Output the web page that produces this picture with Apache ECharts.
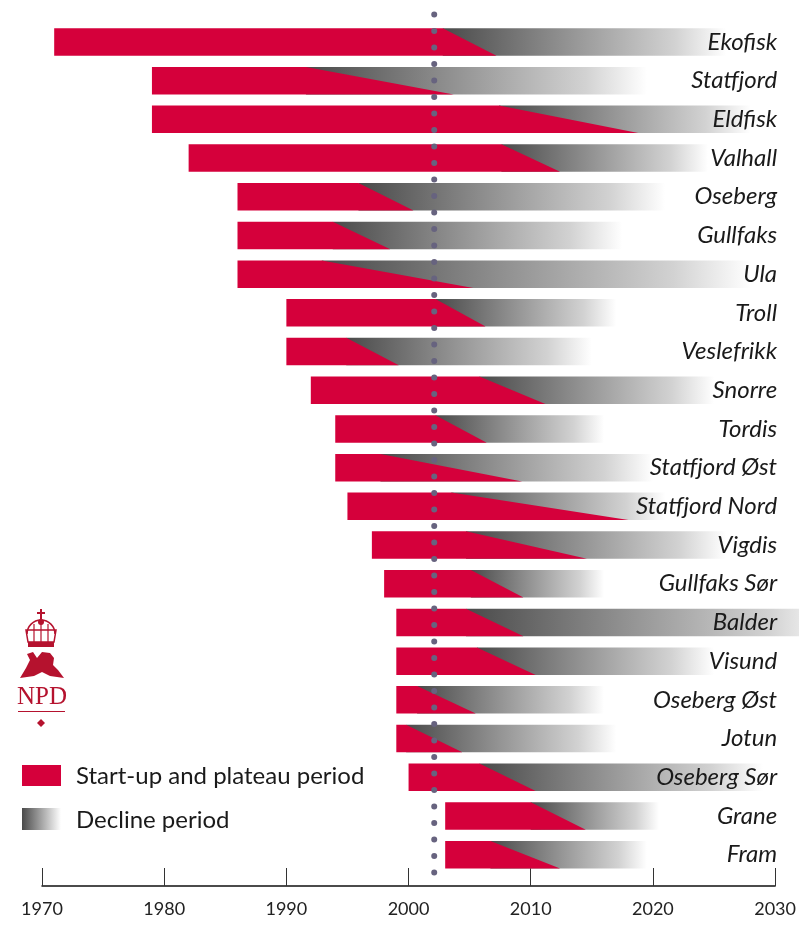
<!DOCTYPE html>
<html>
<head>
<meta charset="utf-8">
<script src="https://cdn.jsdelivr.net/npm/echarts@6/dist/echarts.min.js"></script>
<style>html,body{margin:0;padding:0;background:#fff}#c{width:799px;height:925px}</style>
</head>
<body>
<div id="c"></div>
<script>
// ---- data ----
var fields = ['Ekofisk','Statfjord','Eldfisk','Valhall','Oseberg','Gullfaks','Ula','Troll','Veslefrikk','Snorre','Tordis','Statfjord Øst','Statfjord Nord','Vigdis','Gullfaks Sør','Balder','Visund','Oseberg Øst','Jotun','Oseberg Sør','Grane','Fram'];
var startYear   = [1971,1979,1979,1982,1986,1986,1986,1990,1990,1992,1994,1994,1995,1997,1998,1999,1999,1999,1999,2000,2003,2003];
var plateauTop  = [2002.8,1991.6,2007.4,2007.6,1995.9,1993.8,1992.9,2002.2,1994.9,2005.8,2002.2,1997.7,2003.5,2004.7,2005.1,2004.7,2005.6,2000.7,1999.8,2005.8,2010.0,2006.7];
var plateauBase = [2007.2,2003.7,2018.8,2012.4,2000.4,1998.5,2005.3,2006.3,1999.2,2011.2,2006.4,2009.3,2018.0,2014.6,2009.4,2009.4,2010.4,2005.5,2004.4,2010.4,2014.5,2012.4];
var endYear     = [2026,2019.5,2028,2024.5,2021,2017.5,2028,2017,2015,2025,2016,2020,2021,2026,2016,2035,2025,2016,2017,2029,2020.5,2019.5];
var todayYear = 2002.1;
var xTicks = [1970,1980,1990,2000,2010,2020,2030];
var legendNames = ['Start-up and plateau period','Decline period'];

var RED = '#d5003b';
var rows = fields.map(function(f,i){return [i,startYear[i],plateauTop[i],plateauBase[i],endYear[i]];});

var chart = echarts.init(document.getElementById('c'));
var LOGO = '#b5122e';
var option = {
  animation:false,
  backgroundColor:'#fff',
  grid:{left:42,right:22,top:22.6,bottom:51},
  xAxis:{type:'value',min:xTicks[0],max:xTicks[xTicks.length-1],interval:10,offset:12,
    axisLine:{show:true,lineStyle:{color:'#111',width:1.5}},
    axisTick:{show:true,inside:true,length:18,lineStyle:{color:'#333',width:1}},
    axisLabel:{fontFamily:'Lato',fontSize:18,color:'#222',margin:14,formatter:function(v){return String(v);}},
    splitLine:{show:false}},
  yAxis:{type:'category',data:fields,inverse:true,position:'right',z:10,
    axisLine:{show:false},axisTick:{show:false},splitLine:{show:false},
    axisLabel:{inside:true,margin:-2,fontFamily:'Lato',fontStyle:'italic',fontSize:24,color:'#1a1a1a'}},
  series:[
    {type:'custom',name:legendNames[0],data:rows,clip:false,encode:{x:[1,2,3,4],y:0},
     renderItem:function(params,api){
       var yi=api.value(0);
       var s=api.coord([api.value(1),yi]);
       var pt=api.coord([api.value(2),yi]);
       var pb=api.coord([api.value(3),yi]);
       var e=api.coord([api.value(4),yi]);
       var h=api.size([0,1])[1]*0.71;
       var y0=s[1]-h/2, y1=s[1]+h/2;
       return {type:'group',children:[
         {type:'rect',shape:{x:pt[0],y:y0,width:e[0]-pt[0],height:h},
          style:{fill:{type:'linear',x:0,y:0,x2:1,y2:0,global:false,colorStops:[
            {offset:0,color:'#4a4a4a'},{offset:0.82,color:'#d2d2d2'},{offset:1,color:'#ffffff'}]}}},
         {type:'polygon',shape:{points:[[s[0],y0],[pt[0],y0],[pb[0],y1],[s[0],y1]]},style:{fill:RED}}
       ]};
     }},
    {type:'custom',name:'today',data:[[todayYear]],clip:false,z:5,encode:{x:0},
     renderItem:function(params,api){
       var x=api.coord([api.value(0),0])[0];
       var cs=params.coordSys;
       return {type:'line',shape:{x1:x,y1:cs.y-8,x2:x,y2:cs.y+cs.height+12},
         style:{stroke:'#67637f',lineWidth:6,lineCap:'round',lineDash:[0,16.5]}};
     }}
  ],
  graphic:[
    {type:'rect',shape:{x:22,y:765,width:39,height:21},style:{fill:RED}},
    {type:'rect',shape:{x:22,y:808,width:39,height:22},style:{fill:{type:'linear',x:0,y:0,x2:1,y2:0,global:false,colorStops:[{offset:0,color:'#4a4a4a'},{offset:1,color:'#ffffff'}]}}},
    {type:'text',x:76,y:776,style:{text:legendNames[0],fontFamily:'Lato',fontSize:24,fill:'#1a1a1a',textVerticalAlign:'middle',verticalAlign:'middle'}},
    {type:'text',x:76,y:820,style:{text:legendNames[1],fontFamily:'Lato',fontSize:24,fill:'#1a1a1a',textVerticalAlign:'middle',verticalAlign:'middle'}},
    // logo
    {type:'rect',shape:{x:40,y:609,width:2,height:10},style:{fill:LOGO}},
    {type:'rect',shape:{x:37,y:612,width:8,height:2},style:{fill:LOGO}},
    {type:'circle',shape:{cx:41,cy:622,r:3},style:{fill:LOGO}},
    {type:'arc',shape:{cx:41,cy:634,r:14,startAngle:Math.PI,endAngle:2*Math.PI},style:{stroke:LOGO,lineWidth:1.5,fill:null}},
    {type:'polygon',shape:{points:[[26,630],[56,630],[54,642],[28,642]]},style:{stroke:LOGO,lineWidth:1.5,fill:null}},
    {type:'line',shape:{x1:34,y1:624,x2:34,y2:642},style:{stroke:LOGO,lineWidth:1.2}},
    {type:'line',shape:{x1:41,y1:624,x2:41,y2:642},style:{stroke:LOGO,lineWidth:1.2}},
    {type:'line',shape:{x1:48,y1:624,x2:48,y2:642},style:{stroke:LOGO,lineWidth:1.2}},
    {type:'rect',shape:{x:28,y:642,width:26,height:5},style:{fill:LOGO}},
    {type:'polygon',shape:{points:[[20,678],[26,668],[30,660],[27,654],[33,652],[37,658],[42,652],[50,653],[54,658],[53,665],[58,670],[64,678],[50,676],[42,672],[34,676]]},style:{fill:LOGO}},
    {type:'text',x:42,y:697,style:{text:'NPD',fontFamily:'Liberation Serif',fontSize:25,fill:LOGO,textAlign:'center',align:'center',textVerticalAlign:'middle',verticalAlign:'middle'}},
    {type:'rect',shape:{x:18,y:711,width:47,height:1},style:{fill:LOGO}},
    {type:'polygon',shape:{points:[[41,719],[45,723],[41,727],[37,723]]},style:{fill:LOGO}}
  ]
};
chart.setOption(option);
</script>
</body>
</html>
